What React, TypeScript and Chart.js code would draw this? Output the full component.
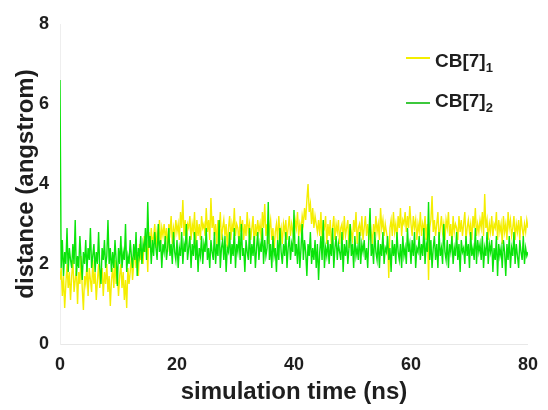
import React, { useEffect, useRef } from "react";
import { Chart, registerables } from "chart.js";

Chart.register(...registerables);

const xTicks = [0, 20, 40, 60, 80];
const yTicks = [0, 2, 4, 6, 8];
const timeStep = 0.2; // ns between samples

const cb7_1 = [
  1.6, 1.9, 1.2, 1.7, 0.9, 1.5, 2.0, 1.4, 1.8, 1.1,
  1.7, 2.1, 1.3, 1.6, 1.9, 1.0, 1.8, 1.5, 2.2, 1.4,
  0.85, 1.7, 1.5, 2.0, 1.2, 1.9, 1.6, 1.3, 2.1, 1.5,
  1.8, 1.1, 1.6, 2.0, 1.4, 1.7, 1.9, 1.2, 1.8, 1.5,
  2.0, 1.3, 1.7, 0.95, 1.6, 1.9, 1.4, 2.1, 1.5, 1.8,
  1.2, 1.7, 2.0, 1.4, 1.8, 1.1, 1.6, 0.9, 1.9, 1.5,
  1.8, 2.2, 1.6, 2.0, 2.4, 1.9, 2.3, 1.7, 2.5, 2.1,
  2.4, 2.0, 2.7, 2.3, 2.6, 1.8, 2.8, 2.4, 2.9, 2.5,
  2.7, 3.0, 2.4, 2.8, 2.6, 3.1, 2.5, 2.9, 2.7, 3.0,
  2.6, 2.9, 2.3, 3.0, 2.8, 3.2, 2.5, 2.9, 2.7, 3.1,
  2.8, 3.0, 2.6, 3.3, 2.9, 3.6, 2.7, 3.1, 2.5, 3.0,
  2.9, 3.2, 2.6, 3.0, 2.8, 3.3, 2.4, 3.1, 2.7, 3.0,
  2.6, 3.2, 2.9, 3.0, 2.7, 3.4, 2.8, 3.1, 2.6, 3.65,
  2.9, 3.2, 2.7, 3.0, 2.5, 3.1, 2.8, 3.3, 2.6, 2.9,
  3.1, 2.7, 3.0, 2.4, 2.9, 3.2, 2.6, 3.0, 2.8, 3.4,
  2.7, 3.0, 2.9, 2.5, 3.2, 2.8, 3.1, 2.6, 3.0, 2.7,
  3.3, 2.8, 3.0, 2.6, 2.9, 3.2, 2.4, 3.0, 2.7, 3.1,
  2.8, 3.0, 2.6, 3.3, 2.9, 3.5, 2.7, 3.0, 2.5, 2.9,
  3.1, 2.6, 2.9, 2.3, 2.8, 3.0, 2.6, 3.2, 2.7, 2.9,
  2.5, 3.0, 2.8, 3.1, 2.6, 2.9, 3.2, 2.7, 3.0, 2.8,
  2.6, 3.1, 2.9, 3.3, 2.7, 3.0, 2.8, 3.2, 3.0, 3.4,
  3.1, 3.6, 4.0, 3.3, 3.5, 3.0, 3.4, 2.9, 3.2, 3.0,
  2.8, 3.1, 2.7, 3.3, 2.6, 3.0, 2.9, 3.2, 2.5, 3.0,
  2.7, 3.1, 2.4, 2.9, 3.2, 2.6, 3.0, 2.8, 3.1, 2.5,
  2.9, 3.0, 2.6, 3.2, 2.7, 2.9, 3.1, 2.4, 3.0, 2.8,
  2.6, 3.1, 2.8, 3.3, 2.5, 2.9, 3.0, 2.7, 3.2, 2.6,
  2.9, 3.2, 2.7, 3.0, 2.6, 3.1, 2.8, 2.5, 3.0, 2.7,
  3.2, 2.8, 3.0, 2.6, 3.4, 2.9, 3.1, 2.7, 3.0, 2.8,
  2.6, 1.65, 2.9, 3.1, 2.7, 3.3, 2.8, 3.0, 2.6, 3.2,
  2.9, 3.4, 2.7, 3.1, 3.0, 3.3, 2.8, 3.2, 2.9, 3.45,
  3.0, 2.7, 3.2, 2.9, 3.1, 2.6, 3.0, 2.8, 3.3, 2.7,
  3.0, 2.8, 3.2, 2.6, 3.0, 1.6, 2.9, 3.1, 3.7, 2.8,
  3.1, 2.7, 3.0, 3.3, 2.6, 2.9, 3.2, 2.8, 3.0, 2.6,
  3.1, 2.9, 3.3, 2.7, 3.0, 2.5, 3.2, 2.8, 3.0, 2.9,
  2.6, 3.2, 2.8, 3.1, 2.7, 3.0, 3.3, 2.6, 2.9, 3.1,
  2.8, 3.0, 2.6, 3.2, 2.9, 3.4, 2.7, 3.0, 2.8, 3.1,
  2.9, 3.3, 2.7, 3.75, 2.9, 3.1, 2.6, 3.0, 2.8, 3.2,
  2.7, 3.0, 2.9, 3.3, 2.6, 3.1, 2.8, 3.0, 2.5, 3.2,
  2.8, 3.0, 2.6, 3.3, 2.9, 3.1, 2.7, 2.9, 3.2, 2.6,
  3.0, 2.8, 3.1, 2.6, 3.2, 2.9, 2.7, 3.0, 2.8, 3.1,
  2.9,
];

const cb7_2 = [
  6.6, 1.9, 2.6, 1.7, 2.3, 2.0, 2.9, 1.8, 2.4, 2.1,
  1.9, 2.5, 2.0, 3.1, 1.7, 2.2, 1.9, 2.7, 2.1, 1.6,
  2.3, 2.0, 2.6, 1.8, 2.4, 2.1, 2.9, 1.9, 2.2, 2.5,
  1.8, 2.3, 2.0, 2.8, 1.9, 1.5, 2.4, 2.1, 2.6, 1.9,
  2.2, 3.1, 2.0, 2.4, 1.8, 2.3, 1.9, 2.6, 2.1, 1.45,
  2.4, 2.0, 2.7, 1.9, 2.3, 2.1, 3.0, 1.8, 2.2, 2.0,
  2.6, 2.2, 1.9, 2.5, 2.1, 2.8, 1.7, 2.4, 2.2, 2.7,
  2.0, 2.5, 2.3, 2.9, 2.1, 3.55, 2.4, 2.7, 2.0, 2.6,
  2.2, 2.8, 2.4, 2.1, 3.0, 2.3, 2.6, 1.9, 2.5, 2.3,
  2.7, 2.1, 2.4, 2.9, 2.2, 2.5, 2.0, 2.8, 2.3, 2.1,
  2.6, 1.9, 2.4, 2.2, 2.8, 2.0, 2.5, 2.3, 3.0, 2.1,
  2.4, 2.7, 1.9, 2.5, 2.2, 2.8, 2.1, 2.6, 1.8, 2.4,
  2.2, 2.7, 2.0, 2.5, 2.3, 2.9, 2.1, 2.4, 1.9, 2.6,
  2.3, 2.1, 2.8, 2.0, 2.5, 2.2, 3.1, 1.9, 2.4, 2.6,
  2.1, 2.7, 1.8, 2.4, 2.3, 2.8, 2.0, 2.5, 2.2, 2.9,
  1.9, 2.5, 2.3, 2.7, 2.1, 3.0, 2.2, 2.4, 1.8, 2.6,
  2.3, 2.1, 2.9, 2.0, 2.5, 2.2, 2.7, 1.9, 2.4, 2.8,
  2.1, 2.5, 2.3, 2.9, 2.0, 2.6, 2.2, 2.4, 3.55, 2.1,
  2.5, 1.9, 2.7, 2.2, 2.4, 1.8, 2.6, 2.1, 2.9, 2.3,
  2.0, 2.5, 2.2, 2.8, 1.9, 2.4, 2.7, 2.1, 2.5, 2.3,
  3.35, 2.2, 2.5, 2.0, 2.7, 1.9, 2.4, 3.0, 2.1, 2.6,
  2.3, 1.7, 2.5, 2.2, 2.8, 2.0, 2.4, 2.1, 2.6, 1.9,
  2.5, 1.6, 2.3, 2.7, 2.1, 3.1, 1.9, 2.4, 2.2, 2.6,
  2.0, 2.5, 2.2, 2.9, 1.9, 2.4, 2.7, 2.1, 2.5, 2.3,
  2.1, 2.8, 1.8, 2.5, 2.2, 2.6, 2.0, 2.4, 3.0, 2.2,
  2.5, 1.9, 2.7, 2.2, 2.4, 2.1, 2.8, 2.0, 2.5, 2.3,
  2.6, 2.1, 2.4, 1.9, 2.7, 3.4, 2.2, 2.5, 2.0, 2.8,
  2.3, 2.1, 2.6, 1.9, 2.5, 2.2, 2.8, 2.0, 2.4, 2.3,
  2.7, 2.1, 2.4, 1.8, 2.6, 2.2, 2.5, 2.0, 2.8, 2.3,
  2.1, 2.5, 1.9, 2.7, 2.2, 2.4, 2.0, 2.9, 2.3, 2.5,
  2.0, 2.6, 2.2, 2.8, 1.9, 2.4, 2.3, 2.7, 2.1, 2.5,
  2.2, 2.9, 2.0, 2.5, 2.3, 3.55, 2.1, 2.6, 1.9, 2.4,
  2.7, 2.1, 2.5, 1.9, 2.8, 2.2, 2.4, 2.0, 3.0, 2.3,
  2.1, 2.6, 1.9, 2.5, 2.3, 2.7, 2.0, 2.4, 2.2, 2.8,
  2.1, 2.5, 1.8, 2.6, 2.3, 2.4, 2.0, 2.7, 2.2, 2.5,
  1.9, 2.8, 2.2, 2.4, 2.1, 2.9, 2.0, 2.6, 2.3, 2.5,
  2.1, 2.7, 1.9, 2.4, 2.2, 2.8, 2.0, 2.5, 2.3, 2.6,
  1.8, 2.4, 2.1, 2.7, 1.7, 2.5, 2.2, 2.4, 1.9, 2.6,
  2.3, 1.7, 2.5, 2.1, 2.7, 1.9, 2.4, 2.2, 2.8, 2.0,
  2.5, 2.2, 1.9, 2.6, 2.3, 2.1, 2.7, 2.0, 2.4, 2.2,
  2.3,
];

const seriesNames = ["CB[7]", "CB[7]"];
const seriesSubs = ["1", "2"];
const seriesColors = ["#f4ee00", "#0ae40a"];
const legendLineColors = ["#f4ee00", "#3cc83c"];

const FONT = "'Liberation Sans', Arial, sans-serif";

function toPoints(values: number[]) {
  return values.map((v, i) => ({ x: i * timeStep, y: v }));
}

export default function App() {
  const canvasRef = useRef<HTMLCanvasElement | null>(null);

  useEffect(() => {
    const canvas = canvasRef.current;
    if (!canvas) return;
    const chart = new Chart(canvas, {
      type: "line",
      data: {
        datasets: [
          {
            label: "CB[7]1",
            data: toPoints(cb7_1),
            borderColor: seriesColors[0],
            backgroundColor: seriesColors[0],
            borderWidth: 1.4,
            pointRadius: 0,
            tension: 0,
            order: 2,
          },
          {
            label: "CB[7]2",
            data: toPoints(cb7_2),
            borderColor: seriesColors[1],
            backgroundColor: seriesColors[1],
            borderWidth: 1.4,
            pointRadius: 0,
            tension: 0,
            order: 1,
          },
        ],
      },
      options: {
        animation: false,
        responsive: false,
        maintainAspectRatio: false,
        layout: { padding: { top: 24, right: 17, left: 0, bottom: 0 } },
        plugins: {
          legend: { display: false },
          tooltip: { enabled: false },
        },
        scales: {
          x: {
            type: "linear",
            min: 0,
            max: 80,
            afterFit: (scale: any) => {
              scale.height = 66;
            },
            afterBuildTicks: (scale: any) => {
              scale.ticks = xTicks.map((v) => ({ value: v }));
            },
            ticks: {
              color: "#1e1e1e",
              font: { family: FONT, size: 18, weight: "bold" },
              padding: 10,
              maxRotation: 0,
            },
            grid: { drawOnChartArea: false, drawTicks: false },
            border: { display: true, color: "#e8e8e8", width: 1 },
            title: {
              display: true,
              text: "simulation time (ns)",
              color: "#1e1e1e",
              font: { family: FONT, size: 24, weight: "bold" },
              padding: { top: 0, bottom: 3 },
            },
          },
          y: {
            type: "linear",
            min: 0,
            max: 8,
            afterFit: (scale: any) => {
              scale.width = 60;
            },
            afterBuildTicks: (scale: any) => {
              scale.ticks = yTicks.map((v) => ({ value: v }));
            },
            ticks: {
              color: "#1e1e1e",
              font: { family: FONT, size: 18, weight: "bold" },
              padding: 11,
            },
            grid: { drawOnChartArea: false, drawTicks: false },
            border: { display: true, color: "#eeeeee", width: 1 },
            title: {
              display: true,
              text: "distance (angstrom)",
              color: "#1e1e1e",
              font: { family: FONT, size: 24, weight: "bold" },
              padding: { top: 12, bottom: 0 },
            },
          },
        },
      },
    });
    return () => chart.destroy();
  }, []);

  const legendRows = [
    { lineTop: 57, textTop: 50.5 },
    { lineTop: 102, textTop: 90.5 },
  ];

  return (
    <div
      style={{
        position: "fixed",
        left: 0,
        top: 0,
        width: 548,
        height: 410,
        background: "#ffffff",
        overflow: "hidden",
      }}
    >
      <canvas ref={canvasRef} width={548} height={410} style={{ display: "block" }} />
      {legendRows.map((row, i) => (
        <React.Fragment key={i}>
          <div
            style={{
              position: "absolute",
              left: 406,
              top: row.lineTop,
              width: 24,
              height: 1.5,
              background: legendLineColors[i],
            }}
          />
          <div
            style={{
              position: "absolute",
              left: 435,
              top: row.textTop,
              fontFamily: FONT,
              fontWeight: "bold",
              fontSize: 19,
              lineHeight: "19px",
              color: "#1e1e1e",
              whiteSpace: "nowrap",
            }}
          >
            {seriesNames[i]}
            <span style={{ fontSize: 13, position: "relative", top: 5 }}>{seriesSubs[i]}</span>
          </div>
        </React.Fragment>
      ))}
    </div>
  );
}
